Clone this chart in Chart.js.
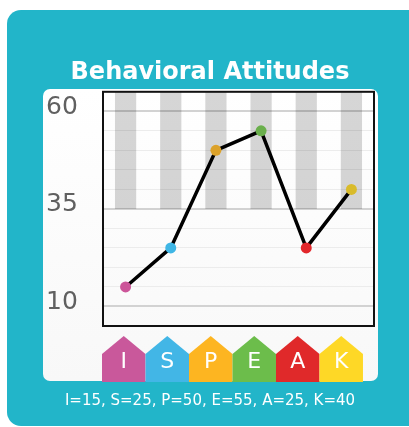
<!DOCTYPE html>
<html>
<head>
<meta charset="utf-8">
<script src="https://cdn.jsdelivr.net/npm/chart.js@4.4.1/dist/chart.umd.min.js"></script>
<style>
  html, body { margin: 0; padding: 0; background: #fff; }
  #wrap { position: relative; width: 409px; height: 427px; overflow: hidden; }
  #box { position: absolute; left: 7px; top: 10px; width: 416px; height: 416px;
         background: #22b5c9; border-radius: 14px; }
  #panel { position: absolute; left: 43px; top: 89px; width: 335px; height: 292px;
           background: linear-gradient(#ffffff, #f8f8f8); border-radius: 7px; }
  #c { position: absolute; left: 0; top: 0; }
</style>
</head>
<body>
<div id="wrap">
  <div id="box"></div>
  <div id="panel"></div>
  <canvas id="c" width="409" height="427"></canvas>
</div>
<script>
// categorias y valores
const letters = ["I", "S", "P", "E", "A", "K"];
const scores = [15, 25, 50, 55, 25, 40];
const colors = ["#cc5599", "#3fb6e5", "#dca22a", "#6aaf4c", "#e2272b", "#d9bb2a"];
const houseColors = ["#c9589b", "#42b6e6", "#fdb521", "#6cbd4b", "#e0292a", "#fed826"];
// bandas grises (de 35 hasta arriba)
const bandLow = [35, 35, 35, 35, 35, 35];
const bandHigh = [65, 65, 65, 65, 65, 65];
const yLabels = [10, 35, 60];

// casitas y borde del area
const houses = {
  id: "houses",
  afterDraw(chart) {
    const ctx = chart.ctx;
    const a = chart.chartArea;
    ctx.save();
    ctx.strokeStyle = "#111";
    ctx.lineWidth = 2;
    ctx.strokeRect(a.left, a.top, a.right - a.left, a.bottom - a.top);

    const w = (a.right - a.left) / letters.length * 0.963;
    const x0 = a.left - 1;
    const top = a.bottom + 10, shoulder = a.bottom + 28, bottom = a.bottom + 56;
    letters.forEach((l, i) => {
      const L = x0 + i * w, R = L + w, cx = (L + R) / 2;
      ctx.fillStyle = houseColors[i];
      ctx.beginPath();
      ctx.moveTo(L, bottom);
      ctx.lineTo(L, shoulder);
      ctx.lineTo(cx, top);
      ctx.lineTo(R, shoulder);
      ctx.lineTo(R, bottom);
      ctx.closePath();
      ctx.fill();
      ctx.fillStyle = "#fff";
      ctx.font = "22px 'DejaVu Sans'";
      ctx.textAlign = "center";
      ctx.textBaseline = "middle";
      ctx.fillText(l, cx, a.bottom + 36);
    });
    ctx.restore();
  }
};

new Chart(document.getElementById("c"), {
  type: "bar",
  data: {
    labels: letters,
    datasets: [
      {
        type: "line",
        data: scores,
        borderColor: "#000",
        borderWidth: 3.5,
        pointRadius: 5.5,
        pointHoverRadius: 5.5,
        pointBorderWidth: 0,
        pointBackgroundColor: colors,
        order: 0
      },
      {
        type: "bar",
        data: bandLow.map((v, i) => [v, bandHigh[i]]),
        backgroundColor: "rgba(0,0,0,0.16)",
        barPercentage: 0.47,
        categoryPercentage: 1,
        order: 1
      }
    ]
  },
  plugins: [houses],
  options: {
    responsive: false,
    animation: false,
    layout: { padding: { top: 58, left: 46, right: 35, bottom: 17 } },
    plugins: {
      legend: { display: false },
      tooltip: { enabled: false },
      title: {
        display: true,
        text: "Behavioral Attitudes",
        color: "#fff",
        font: { family: "'DejaVu Sans'", size: 24, weight: "bold", lineHeight: 1.2 },
        padding: { top: 0, bottom: 5 }
      },
      subtitle: {
        display: true,
        position: "bottom",
        text: "I=15, S=25, P=50, E=55, A=25, K=40",
        color: "#fff",
        font: { family: "'DejaVu Sans'", size: 15, lineHeight: 1.2 },
        padding: { top: 9, bottom: 0 }
      }
    },
    scales: {
      x: {
        grid: { display: false },
        border: { display: false },
        ticks: { display: false },
        afterFit(s) { s.height = 57; }
      },
      y: {
        min: 5,
        max: 65,
        border: { display: false },
        afterFit(s) { s.width = 57; },
        ticks: {
          stepSize: 5,
          autoSkip: false,
          crossAlign: "far",
          labelOffset: -4,
          color: "#606060",
          font: { family: "'DejaVu Sans'", size: 25 },
          callback: v => yLabels.includes(v) ? String(v) : ""
        },
        grid: {
          drawTicks: false,
          color: c => (c.tick.value === 5 || c.tick.value === 65) ? "rgba(0,0,0,0)"
            : yLabels.includes(c.tick.value) ? "#d2d2d2" : "#ececec",
          lineWidth: c => yLabels.includes(c.tick.value) ? 2 : 1
        }
      }
    }
  }
});
</script>
</body>
</html>
